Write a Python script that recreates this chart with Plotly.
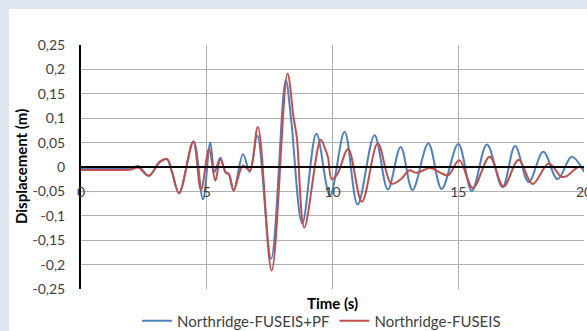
import plotly.graph_objects as go

# Northridge record: structural displacement response (m) vs time (s)
t_pf = [0, 1.0, 2.0, 2.27, 2.7, 3.13, 3.42, 3.61, 3.9, 4.48, 4.85, 5.14, 5.31, 5.54,
        5.75, 5.88, 6.07, 6.44, 6.71, 7.01, 7.56, 8.14, 8.35, 8.8, 9.36, 9.9, 10.48,
        11.0, 11.67, 12.2, 12.71, 13.18, 13.81, 14.34, 15.0, 15.54, 16.14, 16.76,
        17.26, 17.8, 18.38, 18.95, 19.51, 20.0]
d_pf = [-0.003, -0.003, -0.003, 0.002, -0.018, 0.011, 0.016, -0.010, -0.053, 0.052,
        -0.066, 0.050, -0.010, 0.019, -0.011, -0.015, -0.048, 0.026, -0.010, 0.064,
        -0.188, 0.178, 0.100, -0.116, 0.068, -0.058, 0.072, -0.077, 0.065, -0.046,
        0.041, -0.047, 0.048, -0.045, 0.047, -0.049, 0.046, -0.041, 0.043, -0.031,
        0.031, -0.025, 0.021, -0.010]

t_fs = [0, 1.0, 2.0, 2.27, 2.7, 3.13, 3.42, 3.61, 3.9, 4.46, 4.77, 5.09, 5.34, 5.54,
        5.75, 5.88, 6.07, 6.44, 6.71, 7.03, 7.58, 8.21, 8.45, 8.58, 8.88, 9.53, 9.7,
        9.82, 9.97, 10.2, 10.62, 11.17, 11.8, 12.34, 12.74, 13.05, 13.35, 13.88, 14.3,
        14.6, 15.04, 15.58, 16.25, 16.8, 17.4, 17.95, 18.6, 19.1, 19.3, 19.78, 20.0]
d_fs = [-0.006, -0.006, -0.005, -0.001, -0.018, 0.010, 0.016, -0.008, -0.054, 0.052,
        -0.047, 0.037, -0.028, 0.016, -0.011, -0.015, -0.048, 0.003, -0.007, 0.082,
        -0.212, 0.191, 0.102, 0.061, -0.124, 0.056, 0.038, 0.020, -0.025, -0.014,
        0.037, -0.071, 0.048, -0.034, -0.024, -0.007, -0.012, -0.002, -0.012, -0.017,
        0.014, -0.043, 0.021, -0.040, 0.015, -0.035, 0.007, -0.020, -0.019, 0.000,
        -0.003]

x_ticks = [0, 5, 10, 15, 20]
x_labels = ["0", "5", "10", "15", "20"]
y_ticks = [0.25, 0.2, 0.15, 0.1, 0.05, 0, -0.05, -0.1, -0.15, -0.2, -0.25]
y_labels = ["0,25", "0,2", "0,15", "0,1", "0,05", "0", "-0,05", "-0,1", "-0,15",
            "-0,2", "-0,25"]

FONT = "Lato"
TXT = "#404040"
GRID = "#b0b0b0"

fig = go.Figure()
fig.add_trace(go.Scatter(x=t_pf, y=d_pf, mode="lines", name="Northridge-FUSEIS+PF",
                         line=dict(color="#4f81bd", width=2, shape="spline", smoothing=1)))
fig.add_trace(go.Scatter(x=t_fs, y=d_fs, mode="lines", name="Northridge-FUSEIS",
                         line=dict(color="#c0504d", width=2, shape="spline", smoothing=1)))

W, H = 587, 331
ML, MR, MT, MB = 81, 3, 45, 42
PW, PH = W - ML - MR, H - MT - MB

def px_x(px):
    return (px - ML) / PW

def px_y(py):
    return (H - MB - py) / PH

fig.update_layout(
    width=W, height=H,
    margin=dict(l=ML, r=MR, t=MT, b=MB, pad=0, autoexpand=False),
    paper_bgcolor="#dfe7f2",
    plot_bgcolor="white",
    font=dict(family=FONT, size=13, color=TXT),
    showlegend=True,
    legend=dict(orientation="h", x=px_x(137), xanchor="left", y=px_y(321),
                yanchor="middle", bgcolor="rgba(0,0,0,0)",
                font=dict(family=FONT, size=15, color=TXT), itemwidth=30,
                tracegroupgap=0),
    shapes=[dict(type="rect", xref="paper", yref="paper", layer="below",
                 x0=px_x(9), x1=px_x(W + 5), y0=px_y(H + 5), y1=px_y(9),
                 fillcolor="white", line=dict(width=0))],
    annotations=[
        dict(text="Time (s)", xref="x", yref="paper", x=10, y=px_y(303),
             xanchor="center", yanchor="middle", showarrow=False,
             font=dict(family=FONT, size=15, color="black", weight="bold")),
        dict(text="Displacement (m)", xref="paper", yref="paper", x=px_x(21), y=0.5,
             xanchor="center", yanchor="middle", textangle=-90, showarrow=False,
             font=dict(family=FONT, size=15, color="black", weight="bold")),
    ],
)

fig.update_xaxes(range=[0, 20], tickvals=x_ticks, ticktext=x_labels,
                 showgrid=True, gridcolor=GRID, gridwidth=1,
                 anchor="free", position=0.5, showline=True, linecolor="black",
                 linewidth=2, ticks="", ticklabelstandoff=12, zeroline=False,
                 ticklabeloverflow="allow",
                 tickfont=dict(family=FONT, size=14, color=TXT))
fig.update_yaxes(range=[-0.25, 0.25], tickvals=y_ticks, ticktext=y_labels,
                 showgrid=True, gridcolor=GRID, gridwidth=1, zeroline=False,
                 showline=True, linecolor="black", linewidth=2, ticks="",
                 ticklabelstandoff=11,
                 tickfont=dict(family=FONT, size=14, color=TXT))

fig.write_html("out.html")
